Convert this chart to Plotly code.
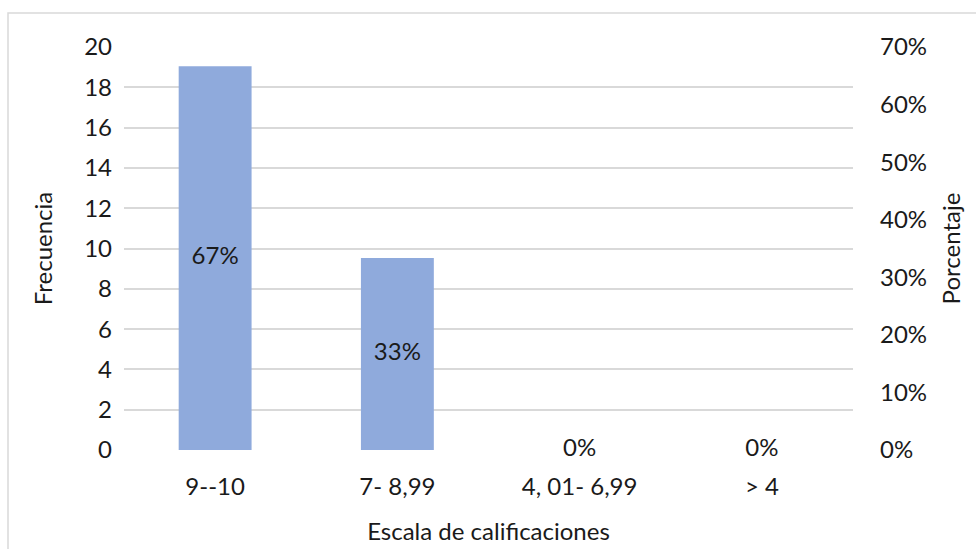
import plotly.graph_objects as go

categories = ["9--10", "7- 8,99", "4, 01- 6,99", "> 4"]
percentages = [0.6667, 0.3333, 0.0, 0.0]
pct_labels = ["67%", "33%", "0%", "0%"]
freq_ticks = list(range(0, 21, 2))

FONT = "Lato"
TXT = "#1a1a1a"
GRID = "#d9d9d9"

fig = go.Figure()
# invisible trace so the left (frequency) axis is drawn
fig.add_trace(go.Scatter(
    x=categories, y=[None] * len(categories), yaxis="y",
    mode="markers", showlegend=False, hoverinfo="skip",
))
fig.add_trace(go.Bar(
    x=categories, y=percentages, yaxis="y2", width=0.4,
    marker=dict(color="#8FAADC", line=dict(width=0)),
    showlegend=False, hoverinfo="skip",
))
fig.add_trace(go.Scatter(
    x=categories, y=[p / 2 for p in percentages], yaxis="y2",
    mode="text", text=pct_labels, textposition="middle center",
    textfont=dict(family=FONT, size=24, color=TXT),
    showlegend=False, hoverinfo="skip", cliponaxis=False,
))

fig.update_layout(
    width=976, height=549,
    margin=dict(l=124, r=123, t=47, b=99),
    paper_bgcolor="white", plot_bgcolor="white",
    font=dict(family=FONT, size=24, color=TXT),
    xaxis=dict(
        showgrid=False, showline=False, ticks="", zeroline=False,
        ticklabelstandoff=20, automargin=False,
        title=dict(text="Escala de calificaciones", standoff=24,
                   font=dict(family=FONT, size=24, color=TXT)),
    ),
    yaxis=dict(
        range=[0, 20], tickvals=freq_ticks, showgrid=True, gridcolor=GRID,
        gridwidth=1.5, zeroline=False, showline=False, ticks="",
        ticklabelstandoff=11, automargin=False,
        title=dict(text="Frecuencia", standoff=24,
                   font=dict(family=FONT, size=24, color=TXT)),
    ),
    yaxis2=dict(
        range=[0, 0.7], dtick=0.1, tickformat=".0%", overlaying="y",
        side="right", showgrid=False, zeroline=False, showline=False,
        ticks="", ticklabelstandoff=26, automargin=False,
        title=dict(text="Porcentaje", standoff=17,
                   font=dict(family=FONT, size=24, color=TXT)),
    ),
    shapes=[dict(
        type="rect", xref="paper", yref="paper",
        x0=(8 - 124) / 729, x1=(990 - 124) / 729,
        y0=-(560 - 450) / 403, y1=1 + (47 - 13) / 403,
        line=dict(color=GRID, width=1.5), fillcolor="rgba(0,0,0,0)", layer="below",
    )],
)

fig.write_html("out.html")
